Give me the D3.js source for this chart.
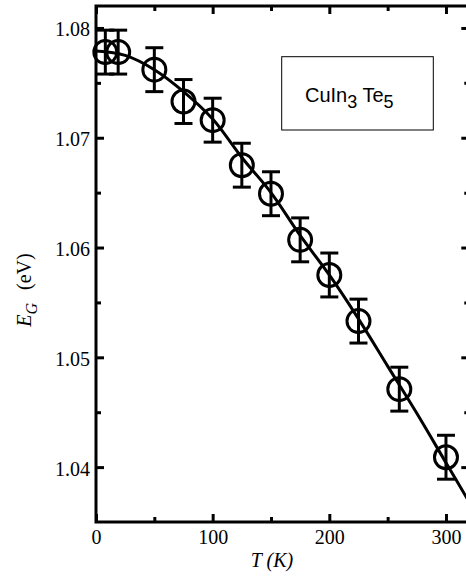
<!DOCTYPE html>
<html>
<head>
<meta charset="utf-8">
<script src="https://cdn.jsdelivr.net/npm/d3@7"></script>
<style>
  html, body { margin: 0; padding: 0; background: #fff; }
  svg { display: block; }
</style>
</head>
<body>
<svg id="chart" width="466" height="576"></svg>
<script>
// Measured data points (temperature in K, band gap in eV, error in eV)
const temps = [8, 19, 50, 75, 100, 125, 150, 175, 200, 225, 260, 300];
const gaps = [1.0778, 1.0778, 1.0762, 1.0733, 1.0716, 1.0675, 1.0649, 1.0607, 1.0575, 1.0533, 1.0471, 1.0409];
const errs = [0.002, 0.002, 0.002, 0.002, 0.002, 0.002, 0.002, 0.002, 0.002, 0.002, 0.002, 0.002];

// Fitted curve
const fitT = [0, 25, 50, 75, 100, 125, 150, 175, 200, 225, 250, 275, 300, 320];
const fitE = [1.0779, 1.0775, 1.0762, 1.0742, 1.0717, 1.0682, 1.0650, 1.0611, 1.0575, 1.0535, 1.0492, 1.0449, 1.0404, 1.0368];

// Ticks
const xMajor = [0, 100, 200, 300];
const xMinor = [50, 150, 250];
const yMajor = [1.04, 1.05, 1.06, 1.07, 1.08];
const yMinor = [1.045, 1.055, 1.065, 1.075];

const svg = d3.select("#chart");
const L = 96, R = 469.3, T0 = 6, B = 522;

const x = d3.scaleLinear().domain([0, 320]).range([L, R]);
const y = d3.scaleLinear().domain([1.035, 1.082]).range([B, T0]);

const serif = "'Liberation Serif', 'Times New Roman', serif";

function styleAxis(g) {
  g.select(".domain").remove();
  g.selectAll(".tick line").attr("stroke", "#000").attr("stroke-width", 3);
  g.selectAll(".tick text").attr("fill", "#000").style("font-family", serif).style("font-size", "20px");
}

// Bottom axis
svg.append("g").attr("transform", `translate(0,${B})`)
  .call(d3.axisBottom(x).tickValues(xMajor).tickSizeInner(-8).tickSizeOuter(0).tickPadding(8).tickFormat(d3.format("d")))
  .call(styleAxis);
svg.append("g").attr("transform", `translate(0,${B})`)
  .call(d3.axisBottom(x).tickValues(xMinor).tickSizeInner(-5).tickSizeOuter(0).tickFormat(""))
  .call(styleAxis);
// Top axis
svg.append("g").attr("transform", `translate(0,${T0})`)
  .call(d3.axisTop(x).tickValues(xMajor).tickSizeInner(-8).tickSizeOuter(0).tickFormat(""))
  .call(styleAxis);
svg.append("g").attr("transform", `translate(0,${T0})`)
  .call(d3.axisTop(x).tickValues(xMinor).tickSizeInner(-5).tickSizeOuter(0).tickFormat(""))
  .call(styleAxis);
// Left axis
svg.append("g").attr("transform", `translate(${L},0)`)
  .call(d3.axisLeft(y).tickValues(yMajor).tickSizeInner(-8).tickSizeOuter(0).tickPadding(6).tickFormat(d3.format(".2f")))
  .call(styleAxis)
  .call(g => g.selectAll(".tick text").attr("dy", "0.4em"));
svg.append("g").attr("transform", `translate(${L},0)`)
  .call(d3.axisLeft(y).tickValues(yMinor).tickSizeInner(-5).tickSizeOuter(0).tickFormat(""))
  .call(styleAxis);
// Right axis
svg.append("g").attr("transform", `translate(${R},0)`)
  .call(d3.axisRight(y).tickValues(yMajor).tickSizeInner(-8).tickSizeOuter(0).tickFormat(""))
  .call(styleAxis);
svg.append("g").attr("transform", `translate(${R},0)`)
  .call(d3.axisRight(y).tickValues(yMinor).tickSizeInner(-5).tickSizeOuter(0).tickFormat(""))
  .call(styleAxis);

// Frame
svg.append("rect")
  .attr("x", L).attr("y", T0).attr("width", R - L).attr("height", B - T0)
  .attr("fill", "none").attr("stroke", "#000").attr("stroke-width", 3);

// Clip
svg.append("clipPath").attr("id", "plotclip")
  .append("rect").attr("x", L).attr("y", T0).attr("width", R - L).attr("height", B - T0);

const plot = svg.append("g").attr("clip-path", "url(#plotclip)");

// Fit curve
const fitData = fitT.map((t, i) => ({ t, e: fitE[i] }));
plot.append("path")
  .datum(fitData)
  .attr("fill", "none").attr("stroke", "#000").attr("stroke-width", 3)
  .attr("d", d3.line().x(d => x(d.t)).y(d => y(d.e)).curve(d3.curveCatmullRom.alpha(0.5)));

// Points with error bars
const pts = temps.map((t, i) => ({ t, e: gaps[i], err: errs[i] }));
const pg = svg.append("g").selectAll("g").data(pts).join("g");
const capW = 9;
pg.append("line")
  .attr("x1", d => x(d.t)).attr("x2", d => x(d.t))
  .attr("y1", d => y(d.e + d.err)).attr("y2", d => y(d.e - d.err))
  .attr("stroke", "#000").attr("stroke-width", 3);
pg.append("line")
  .attr("x1", d => x(d.t) - capW).attr("x2", d => x(d.t) + capW)
  .attr("y1", d => y(d.e + d.err)).attr("y2", d => y(d.e + d.err))
  .attr("stroke", "#000").attr("stroke-width", 3);
pg.append("line")
  .attr("x1", d => x(d.t) - capW).attr("x2", d => x(d.t) + capW)
  .attr("y1", d => y(d.e - d.err)).attr("y2", d => y(d.e - d.err))
  .attr("stroke", "#000").attr("stroke-width", 3);
pg.append("circle")
  .attr("cx", d => x(d.t)).attr("cy", d => y(d.e)).attr("r", 11.5)
  .attr("fill", "none").attr("stroke", "#000").attr("stroke-width", 3);

// Label box
svg.append("rect")
  .attr("x", 281.7).attr("y", 56.7).attr("width", 151.6).attr("height", 73.3)
  .attr("fill", "#fff").attr("stroke", "#000").attr("stroke-width", 1);
const lab = svg.append("text")
  .attr("x", 305).attr("y", 101.5)
  .style("font-family", "'Liberation Sans', Arial, sans-serif").style("font-size", "20px").attr("fill", "#000");
lab.append("tspan").text("CuIn");
lab.append("tspan").attr("dy", 6).style("font-size", "18px").text("3");
lab.append("tspan").attr("dy", -6).text(" Te");
lab.append("tspan").attr("dy", 6).style("font-size", "18px").text("5");

// X axis title
svg.append("text")
  .attr("x", 272).attr("y", 566.5).attr("text-anchor", "middle")
  .style("font-family", serif).style("font-size", "20px").style("font-style", "italic")
  .attr("fill", "#000").text("T (K)");

// Y axis title
const yt = svg.append("text")
  .attr("transform", "translate(31,0) rotate(-90)")
  .attr("x", -326.7).attr("y", 0)
  .style("font-family", serif).style("font-size", "20px").attr("fill", "#000");
yt.append("tspan").style("font-style", "italic").text("E");
yt.append("tspan").attr("dy", 6).style("font-style", "italic").style("font-size", "16px").text("G");
yt.append("tspan").attr("x", -290).attr("dy", -6).text("(eV)");
</script>
</body>
</html>
